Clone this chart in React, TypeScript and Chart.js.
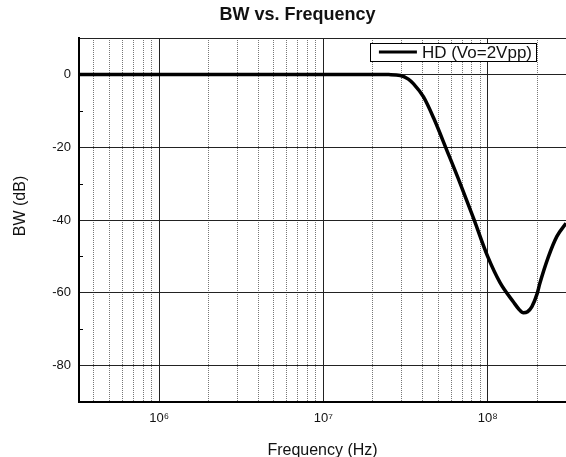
import { useEffect, useRef } from "react";
import { Chart, registerables } from "chart.js";

Chart.register(...registerables);

const FONT = "'Liberation Sans', Arial, Helvetica, sans-serif";

const TITLE = "BW vs. Frequency";
const X_TITLE = "Frequency (Hz)";
const Y_TITLE = "BW (dB)";
const SERIES_LABEL = "HD (Vo=2Vpp)";

// Series (frequency in Hz, bandwidth response in dB)
const FREQ_HZ = [
  3.25e5, 1e6, 3e6, 1e7, 2e7, 2.5e7, 2.94e7, 3.29e7, 3.54e7, 4.07e7, 4.69e7,
  5.66e7, 6.81e7, 8.2e7, 1.0e8, 1.19e8, 1.44e8, 1.55e8, 1.65e8, 1.75e8,
  1.86e8, 2.0e8, 2.08e8, 2.34e8, 2.64e8, 3.0e8,
];
const BW_DB = [
  0, 0, 0, 0, 0, -0.05, -0.3, -1.3, -2.6, -6.2, -12, -21, -30, -39.5, -50,
  -57.2, -62.6, -64.5, -65.5, -65.2, -63.8, -60.3, -57.4, -50.2, -44.5, -40.9,
];

// Axes
const X_MIN = 3.25e5;
const X_MAX = 3e8;
const Y_MIN = -90;
const Y_MAX = 10;

const X_GRID = [
  4e5, 5e5, 6e5, 7e5, 8e5, 9e5,
  1e6, 2e6, 3e6, 4e6, 5e6, 6e6, 7e6, 8e6, 9e6,
  1e7, 2e7, 3e7, 4e7, 5e7, 6e7, 7e7, 8e7, 9e7,
  1e8, 2e8, 3e8,
];
const X_DECADES = [1e6, 1e7, 1e8];
const X_DECADE_LABELS = ["10\u2076", "10\u2077", "10\u2078"];
const Y_GRID = [-90, -80, -60, -40, -20, 0, 10];
const Y_LABELED = [-80, -60, -40, -20, 0];
const Y_MINOR = [-70, -50, -30, -10];

const decorPlugin = {
  id: "decor",
  afterDraw(chart: any) {
    const { ctx, chartArea: a, scales } = chart;
    const y = scales.y;
    ctx.save();

    // inner minor ticks on the left axis
    ctx.strokeStyle = "#000";
    ctx.lineWidth = 1;
    Y_MINOR.forEach((v) => {
      const py = Math.round(y.getPixelForValue(v)) + 0.5;
      ctx.beginPath();
      ctx.moveTo(a.left, py);
      ctx.lineTo(a.left + 4, py);
      ctx.stroke();
    });

    // chart title
    ctx.fillStyle = "#111";
    ctx.font = `bold 18px ${FONT}`;
    ctx.textAlign = "center";
    ctx.textBaseline = "alphabetic";
    ctx.fillText(TITLE, 297.5, 20);

    // y axis title
    ctx.save();
    ctx.translate(21, 206);
    ctx.rotate(-Math.PI / 2);
    ctx.font = `16px ${FONT}`;
    ctx.textAlign = "center";
    ctx.textBaseline = "middle";
    ctx.fillText(Y_TITLE, 0, 0);
    ctx.restore();

    // legend
    ctx.font = `17px ${FONT}`;
    const w = ctx.measureText(SERIES_LABEL).width;
    const boxRight = a.right - 30;
    const boxTop = a.top + 5;
    const boxH = 18;
    const textX = boxRight - 4 - w;
    const lineX1 = textX - 5;
    const lineX0 = lineX1 - 38;
    const boxLeft = lineX0 - 9;
    const cy = boxTop + boxH / 2;
    ctx.fillStyle = "#fff";
    ctx.fillRect(boxLeft, boxTop, boxRight - boxLeft, boxH);
    ctx.strokeStyle = "#000";
    ctx.lineWidth = 1;
    ctx.strokeRect(Math.round(boxLeft) + 0.5, boxTop + 0.5, Math.round(boxRight - boxLeft), boxH);
    ctx.lineWidth = 3;
    ctx.beginPath();
    ctx.moveTo(lineX0, cy);
    ctx.lineTo(lineX1, cy);
    ctx.stroke();
    ctx.fillStyle = "#111";
    ctx.textAlign = "left";
    ctx.textBaseline = "middle";
    ctx.fillText(SERIES_LABEL, textX, cy + 1);

    ctx.restore();
  },
};

export default function App() {
  const ref = useRef<HTMLCanvasElement | null>(null);

  useEffect(() => {
    const canvas = ref.current;
    if (!canvas) return;
    const chart = new Chart(canvas, {
      type: "line",
      data: {
        datasets: [
          {
            label: SERIES_LABEL,
            data: FREQ_HZ.map((f, i) => ({ x: f, y: BW_DB[i] })),
            borderColor: "#000",
            backgroundColor: "#000",
            borderWidth: 3.5,
            pointRadius: 0,
            cubicInterpolationMode: "monotone",
            fill: false,
          },
        ],
      },
      options: {
        responsive: false,
        animation: false,
        devicePixelRatio: 1,
        layout: { padding: { top: 38, left: 0, right: 0, bottom: 0 } },
        plugins: {
          legend: { display: false },
          title: { display: false },
          tooltip: { enabled: false },
        },
        scales: {
          x: {
            type: "logarithmic",
            min: X_MIN,
            max: X_MAX,
            afterBuildTicks: (s: any) => {
              s.ticks = X_GRID.map((v) => ({ value: v }));
            },
            afterFit: (s: any) => {
              s.height = 55;
              s.paddingLeft = 0;
              s.paddingRight = 0;
            },
            ticks: {
              autoSkip: false,
              maxRotation: 0,
              minRotation: 0,
              padding: 9,
              color: "#111",
              font: { family: FONT, size: 13 },
              callback: (v: any) => {
                const i = X_DECADES.indexOf(Number(v));
                return i >= 0 ? X_DECADE_LABELS[i] : "";
              },
            },
            grid: {
              drawTicks: false,
              lineWidth: 1,
              color: (c: any) =>
                c.tick && X_DECADES.includes(c.tick.value) ? "#222" : "#777",
            },
            border: {
              display: true,
              color: "#000",
              width: 2,
              dash: (c: any) =>
                c.tick && !X_DECADES.includes(c.tick.value) ? [1, 1] : [],
            },
            title: {
              display: true,
              text: X_TITLE,
              color: "#111",
              font: { family: FONT, size: 16, lineHeight: 1 },
              padding: { top: 0, bottom: -2 },
            },
          },
          y: {
            type: "linear",
            min: Y_MIN,
            max: Y_MAX,
            afterBuildTicks: (s: any) => {
              s.ticks = Y_GRID.map((v) => ({ value: v }));
            },
            afterFit: (s: any) => {
              s.width = 79;
              s.paddingTop = 0;
              s.paddingBottom = 0;
            },
            ticks: {
              padding: 8,
              color: "#111",
              font: { family: FONT, size: 13 },
              callback: (v: any) =>
                Y_LABELED.includes(Number(v)) ? String(v) : "",
            },
            grid: { drawTicks: false, lineWidth: 1, color: "#222" },
            border: { display: true, color: "#000", width: 2 },
          },
        },
      } as any,
      plugins: [decorPlugin],
    });
    return () => chart.destroy();
  }, []);

  return (
    <div style={{ position: "absolute", left: 0, top: 0, width: 566, height: 457 }}>
      <canvas ref={ref} width={566} height={457} style={{ display: "block" }} />
    </div>
  );
}
